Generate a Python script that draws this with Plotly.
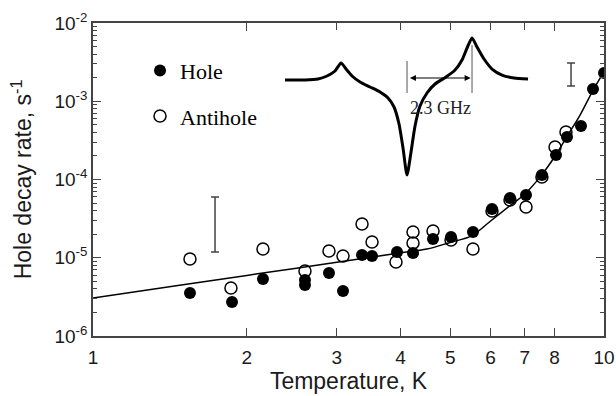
import plotly.graph_objects as go

# Hole decay rate vs temperature (K), rate in s^-1
hole_T = [1.548, 1.871, 2.151, 2.599, 2.599, 2.896, 3.085, 3.361, 3.516, 3.935,
          4.229, 4.628, 5.019, 5.541, 6.037, 6.547, 7.037, 7.560, 8.056, 8.464,
          9.016, 9.517, 10.0]
hole_rate = [3.54e-6, 2.72e-6, 5.35e-6, 5.20e-6, 4.49e-6, 6.39e-6, 3.76e-6, 1.084e-5, 1.053e-5, 1.184e-5,
             1.150e-5, 1.736e-5, 1.841e-5, 2.134e-5, 4.20e-5, 5.80e-5, 6.34e-5, 1.142e-4, 2.056e-4, 3.49e-4,
             4.83e-4, 1.434e-3, 2.30e-3]

antihole_T = [1.548, 1.862, 2.151, 2.599, 2.896, 3.085, 3.361, 3.516, 3.917, 4.229,
              4.229, 4.628, 5.019, 5.541, 6.037, 6.547, 7.037, 7.560, 8.020, 8.425]
antihole_rate = [9.64e-6, 4.11e-6, 1.293e-5, 6.77e-6, 1.220e-5, 1.053e-5, 2.70e-5, 1.589e-5, 8.83e-6, 2.134e-5,
                 1.543e-5, 2.197e-5, 1.686e-5, 1.293e-5, 3.96e-5, 5.47e-5, 4.45e-5, 1.076e-4, 2.60e-4, 4.05e-4]

# Fitted curve through the data
fit_T = [1.0, 1.5, 2.0, 2.5, 3.0, 3.5, 4.0, 4.5, 5.0, 5.5, 6.0, 6.5, 7.0, 7.5, 8.0, 8.5, 9.0, 9.5, 10.0]
fit_rate = [3.06e-6, 4.51e-6, 5.95e-6, 7.35e-6, 8.77e-6, 1.016e-5, 1.157e-5, 1.29e-5, 1.57e-5, 1.90e-5,
            2.95e-5, 4.46e-5, 6.53e-5, 1.08e-4, 1.94e-4, 3.71e-4, 6.87e-4, 1.35e-3, 2.37e-3]

# Typical error bars (lower / upper bound)
bar_T = [1.733, 8.62]
bar_lo = [1.184e-5, 1.566e-3]
bar_hi = [5.98e-5, 3.08e-3]

# Inset: hole spectrum, frequency offset (GHz) vs signal (arb. units)
spec_f = [-4.317, -3.609, -3.149, -2.831, -2.548, -2.335, -2.159, -1.946, -1.663, -1.309,
          -0.955, -0.672, -0.460, -0.283, -0.142, 0.0, 0.142, 0.283, 0.460, 0.708,
          0.991, 1.380, 1.699, 1.946, 2.123, 2.300, 2.477, 2.725, 3.008, 3.362,
          3.786, 4.282]
spec_s = [0.0, 0.0, 0.1, 0.4, 0.9, 1.7, 1.1, 0.4, -0.2, -0.7,
          -1.2, -1.8, -2.7, -4.4, -6.8, -9.5, -7.2, -4.6, -2.6, -1.3,
          -0.4, 0.3, 1.0, 2.0, 3.2, 4.2, 3.3, 2.1, 1.1, 0.5,
          0.2, 0.1]
split_GHz = 2.3

x_tickvals = [1, 2, 3, 4, 5, 6, 7, 8, 10]
x_ticktext = ["1", "2", "3", "4", "5", "6", "7", "8", "10"]
y_tickvals = [1e-6, 1e-5, 1e-4, 1e-3, 1e-2]
y_ticktext = ["10<sup>-6</sup>", "10<sup>-5</sup>", "10<sup>-4</sup>", "10<sup>-3</sup>", "10<sup>-2</sup>"]
y_minor = [k * 10.0 ** e for e in range(-6, -2) for k in range(2, 10)]

AX = "#444444"
SANS = "Liberation Sans, Arial, sans-serif"
SERIF = "Liberation Serif, Times New Roman, serif"

fig = go.Figure()

fig.add_trace(go.Scatter(x=fit_T, y=fit_rate, mode="lines", line=dict(color="black", width=1.5, shape="spline"),
                         showlegend=False, hoverinfo="skip"))

fig.add_trace(go.Scatter(
    x=bar_T, y=bar_lo, mode="markers", marker=dict(size=1, opacity=0), showlegend=False,
    error_y=dict(type="data", symmetric=False,
                 array=[h - l for h, l in zip(bar_hi, bar_lo)], arrayminus=[0] * len(bar_lo),
                 color=AX, thickness=1.5, width=4)))

fig.add_trace(go.Scatter(x=antihole_T, y=antihole_rate, mode="markers", name="Antihole",
                         legendrank=2, legendgroup="antihole",
                         marker=dict(symbol="circle-open", size=12, color="black", line=dict(width=1.5))))
fig.add_trace(go.Scatter(x=hole_T, y=hole_rate, mode="markers", name="Hole",
                         legendrank=1, legendgroup="hole",
                         marker=dict(symbol="circle", size=12, color="black")))

fig.add_trace(go.Scatter(x=spec_f, y=spec_s, xaxis="x2", yaxis="y2", mode="lines",
                         line=dict(color="black", width=3, shape="spline", smoothing=0.6),
                         showlegend=False, hoverinfo="skip"))

# markers for the splitting in the inset
fig.add_shape(type="line", xref="x2", yref="y2", x0=0, x1=0, y0=1.9, y1=-1.3, line=dict(color="#555", width=1))
fig.add_shape(type="line", xref="x2", yref="y2", x0=split_GHz, x1=split_GHz, y0=3.5, y1=-1.3,
              line=dict(color="#555", width=1))
fig.add_annotation(xref="x2", yref="y2", axref="x2", ayref="y2", x=split_GHz - 0.05, y=0.2, ax=0.05, ay=0.2,
                   text="", showarrow=True, arrowhead=2, startarrowhead=2, arrowside="end+start",
                   arrowwidth=1, arrowsize=1.2, arrowcolor="black")
fig.add_annotation(xref="x2", yref="y2", x=split_GHz / 2 + 0.05, y=-2.8, text=f"{split_GHz} GHz", showarrow=False,
                   font=dict(family=SERIF, size=18, color="#222"))

fig.update_layout(
    width=616, height=396, autosize=False,
    margin=dict(l=93, r=12, t=23, b=60),
    paper_bgcolor="white", plot_bgcolor="white",
    xaxis=dict(type="log", range=[0, 1], tickvals=x_tickvals, ticktext=x_ticktext, automargin=False,
               ticks="inside", ticklen=8, tickwidth=1.2, tickcolor=AX, ticklabelstandoff=3,
               showline=True, linecolor=AX, linewidth=1.5, mirror="ticks",
               showgrid=False, zeroline=False,
               tickfont=dict(family=SANS, size=19, color="#1a1a1a"),
               title=dict(text="Temperature, K", font=dict(family=SANS, size=23, color="#1a1a1a"), standoff=5)),
    yaxis=dict(type="log", range=[-6, -2], tickvals=y_tickvals, ticktext=y_ticktext, automargin=False,
               ticks="inside", ticklen=8, tickwidth=1.2, tickcolor=AX,
               minor=dict(tickvals=y_minor, ticks="inside", ticklen=4, tickwidth=1, tickcolor=AX),
               showline=True, linecolor=AX, linewidth=1.5, mirror="ticks",
               showgrid=False, zeroline=False,
               tickfont=dict(family=SANS, size=19, color="#1a1a1a"),
               title=dict(text="Hole decay rate, s<sup>-1</sup>", font=dict(family=SANS, size=23, color="#1a1a1a"),
                          standoff=16)),
    xaxis2=dict(domain=[0.366, 0.865], range=[-4.494, 4.529], anchor="y2", visible=False),
    yaxis2=dict(domain=[0.4984, 0.9776], range=[-10, 5], anchor="x2", visible=False),
    legend=dict(x=0.092, y=0.915, xanchor="left", yanchor="top", bgcolor="rgba(0,0,0,0)",
                font=dict(family=SERIF, size=22, color="black"), tracegroupgap=14),
    showlegend=True,
)

fig.write_html("out.html")
